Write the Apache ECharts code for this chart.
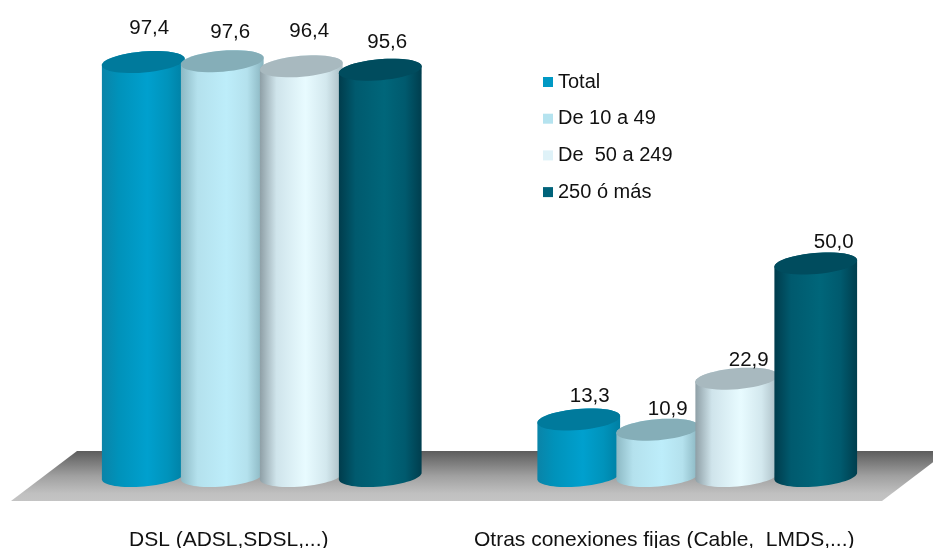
<!DOCTYPE html>
<html>
<head>
<meta charset="utf-8">
<style>
  html, body { margin: 0; padding: 0; background: #fff; }
  #chart { width: 933px; height: 548px; }
</style>
</head>
<body>
<div id="chart"></div>
<script src="https://cdn.jsdelivr.net/npm/echarts@6/dist/echarts.min.js"></script>
<script>
const categories = ['DSL (ADSL,SDSL,...)', 'Otras conexiones fijas (Cable,  LMDS,...)']
const seriesNames = ['Total', 'De 10 a 49', 'De  50 a 249', '250 ó más']
const total = [97.4, 13.3]
const de10a49 = [97.6, 10.9]
const de50a249 = [96.4, 22.9]
const de250 = [95.6, 50.0]
const seriesValues = [total, de10a49, de50a249, de250]

// look of each cylinder: flat colour for the legend, side shading, lid colour
const flatColors = ['#0099c4', '#b5e3ef', '#dff2f8', '#00637a']
const sideStops = [
  ['#0a84a8', '#0092ba', '#00a0ce', '#0093bb', '#007fa3'],
  ['#8db9c4', '#b4e1ed', '#bdedfa', '#b4e1ed', '#88b3be'],
  ['#8e9fa6', '#cfe4eb', '#e8fbff', '#d3e8ee', '#a9bcc3'],
  ['#003c4c', '#005a6e', '#00667a', '#005a6e', '#003e4e']
]
const lidColors = ['#007a9c', '#85aeb8', '#a8b9bf', '#004c5e']

// nudges of the value labels from the centre of each lid, [dx, dy] per category
const labelNudges = [
  [[6, -34], [11, -23]],
  [[8, -29], [10, -20.5]],
  [[8, -35], [12, -18]],
  [[7, -27], [18, -21]]
]

// the plot floor goes back in depth, bars stand half way
const floorDepth = [66, -50]
const tilt = 0.085
const radiusY = 10.5

function ellipsePoints(cx, cy, rx, ry, from, to, n) {
  const pts = []
  for (let i = 0; i <= n; i++) {
    const t = from + (to - from) * i / n
    const ex = rx * Math.cos(t)
    const ey = ry * Math.sin(t)
    pts.push([
      cx + ex * Math.cos(tilt) + ey * Math.sin(tilt),
      cy - ex * Math.sin(tilt) + ey * Math.cos(tilt)
    ])
  }
  return pts
}

function renderCylinder(seriesIndex) {
  return function (params, api) {
    const catIndex = api.value(0)
    const value = api.value(1)
    const band = api.size([1, 0])[0]
    const step = band * 0.1814
    const rx = band * 0.0953
    const base = api.coord([catIndex, 0])
    const top = api.coord([catIndex, value])
    const cx = base[0] + floorDepth[0] / 2 + (seriesIndex - 1.5) * step
    const baseY = base[1] + floorDepth[1] / 2
    const topY = top[1] + floorDepth[1] / 2

    const body = ellipsePoints(cx, baseY, rx, radiusY, Math.PI, 0, 32)
      .concat(ellipsePoints(cx, topY, rx, radiusY, 0, -Math.PI, 32))
    const stops = sideStops[seriesIndex]
    const nudge = labelNudges[seriesIndex][catIndex]

    return {
      type: 'group',
      children: [
        {
          type: 'polygon',
          shape: { points: body },
          style: {
            fill: new echarts.graphic.LinearGradient(0, 0, 1, 0, [
              { offset: 0, color: stops[0] },
              { offset: 0.2, color: stops[1] },
              { offset: 0.55, color: stops[2] },
              { offset: 0.8, color: stops[3] },
              { offset: 1, color: stops[4] }
            ])
          }
        },
        {
          type: 'polygon',
          shape: { points: ellipsePoints(cx, topY, rx, radiusY, 0, Math.PI * 2, 48) },
          style: { fill: lidColors[seriesIndex] }
        },
        {
          type: 'text',
          style: {
            text: value.toFixed(1).replace('.', ','),
            x: cx + nudge[0],
            y: topY + nudge[1],
            align: 'center',
            verticalAlign: 'middle',
            fill: '#111',
            font: '20.5px "Liberation Sans", Arial, sans-serif'
          }
        }
      ]
    }
  }
}

function renderFloor(params) {
  const g = params.coordSys
  const front = g.y + g.height
  return {
    type: 'polygon',
    shape: {
      points: [
        [g.x, front],
        [g.x + g.width, front],
        [g.x + g.width + floorDepth[0], front + floorDepth[1]],
        [g.x + floorDepth[0], front + floorDepth[1]]
      ]
    },
    style: {
      fill: new echarts.graphic.LinearGradient(0, 0, 0, 1, [
        { offset: 0, color: '#5c5c5c' },
        { offset: 0.5, color: '#a0a0a0' },
        { offset: 0.85, color: '#c0c0c0' },
        { offset: 1, color: '#c4c4c4' }
      ])
    }
  }
}

const chart = echarts.init(document.getElementById('chart'))

const option = {
  backgroundColor: '#fff',
  animation: false,
  grid: { left: 11, top: 76, width: 871, height: 425, outerBoundsMode: 'none' },
  legend: {
    orient: 'vertical',
    left: 538,
    top: 67,
    itemWidth: 10,
    itemHeight: 10,
    itemGap: 16.7,
    icon: 'rect',
    data: seriesNames,
    textStyle: { color: '#111', fontSize: 20, fontFamily: '"Liberation Sans", Arial, sans-serif' }
  },
  xAxis: {
    type: 'category',
    data: categories,
    axisLine: { show: false },
    axisTick: { show: false },
    axisLabel: {
      interval: 0,
      margin: 28.5,
      color: '#111',
      fontSize: 21,
      fontFamily: '"Liberation Sans", Arial, sans-serif'
    }
  },
  yAxis: { type: 'value', min: 0, max: 100, show: false },
  series: [
    {
      type: 'custom',
      name: 'floor',
      silent: true,
      renderItem: renderFloor,
      data: [[0, 0]],
      encode: { x: 0, y: 1 }
    }
  ].concat(seriesNames.map((name, i) => ({
    type: 'custom',
    name: name,
    itemStyle: { color: flatColors[i] },
    renderItem: renderCylinder(i),
    data: seriesValues[i].map((v, c) => [c, v]),
    encode: { x: 0, y: 1 }
  })))
}

chart.setOption(option)
window.addEventListener('resize', () => {
  chart.resize()
})
</script>
</body>
</html>
